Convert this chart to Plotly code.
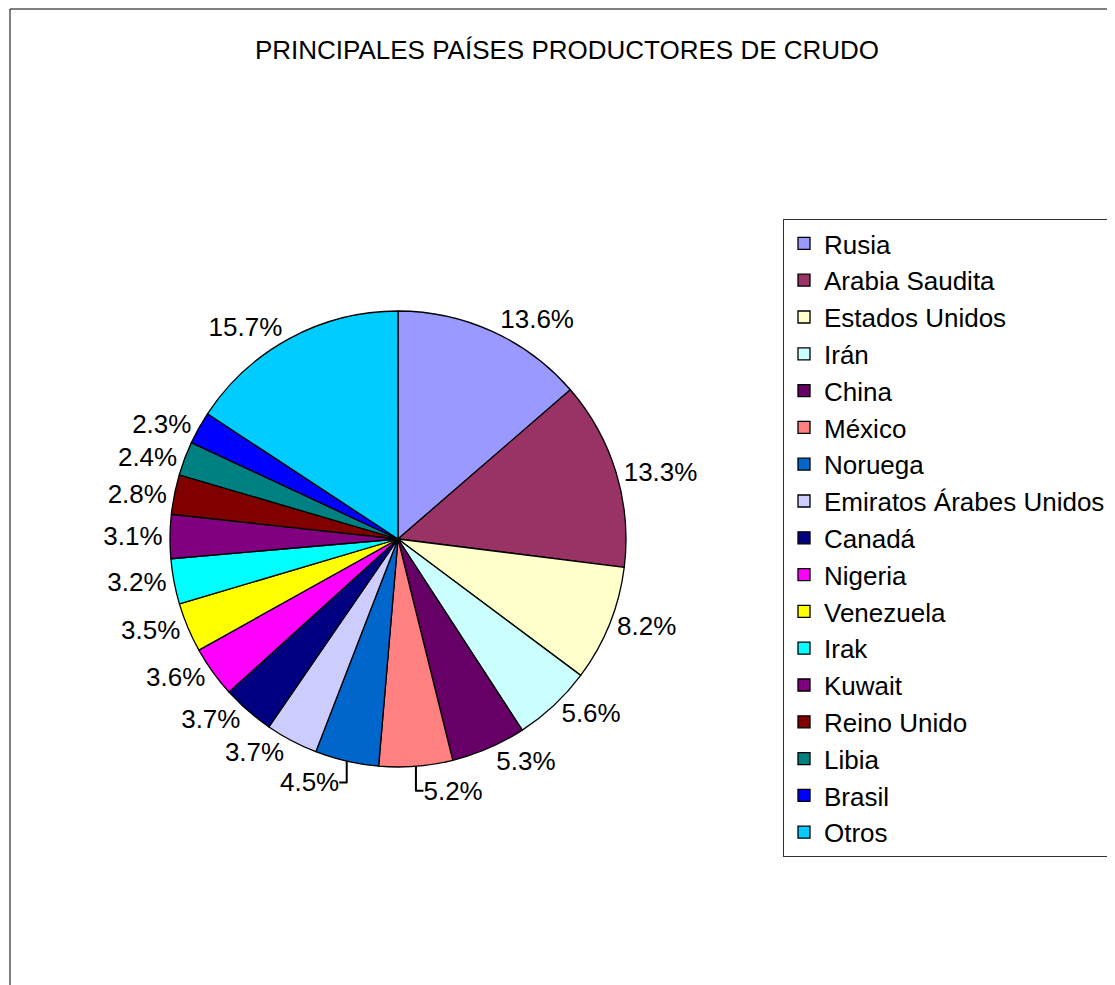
import plotly.graph_objects as go

paises = ['Rusia', 'Arabia Saudita', 'Estados Unidos', 'Irán', 'China', 'México',
          'Noruega', 'Emiratos Árabes Unidos', 'Canadá', 'Nigeria', 'Venezuela',
          'Irak', 'Kuwait', 'Reino Unido', 'Libia', 'Brasil', 'Otros']
porcentajes = [13.6, 13.3, 8.2, 5.6, 5.3, 5.2, 4.5, 3.7, 3.7, 3.6, 3.5,
               3.2, 3.1, 2.8, 2.4, 2.3, 15.7]
colores = ['#9999FF', '#993366', '#FFFFCC', '#CCFFFF', '#660066', '#FF8080',
           '#0066CC', '#CCCCFF', '#000080', '#FF00FF', '#FFFF00', '#00FFFF',
           '#800080', '#800000', '#008080', '#0000FF', '#00CCFF']

# the page adds an 8px body margin, so positions are shifted by 8
W, H = 1115, 985
cx, cy, r = 390, 531, 228

fig = go.Figure()
fig.add_trace(go.Pie(
    labels=paises,
    values=porcentajes,
    text=['%.1f%%' % p for p in porcentajes],
    textinfo='text',
    textposition='outside',
    sort=False,
    direction='clockwise',
    rotation=0,
    marker=dict(colors=colores, line=dict(color='black', width=1.3)),
    textfont=dict(size=26, color='black', family='Liberation Sans, Arial'),
    domain=dict(x=[(cx - r) / W, (cx + r) / W],
                y=[1 - (cy + r) / H, 1 - (cy - r) / H]),
))

fig.update_layout(
    width=W, height=H,
    margin=dict(l=0, r=0, t=0, b=0),
    paper_bgcolor='white',
    font=dict(family='Liberation Sans, Arial', size=26, color='black'),
    title=dict(text='PRINCIPALES PAÍSES PRODUCTORES DE CRUDO',
               x=559 / W, xanchor='center', y=1 - 42 / H, yanchor='middle',
               font=dict(size=26, color='black')),
    legend=dict(x=775 / W, y=1 - 211 / H, xanchor='left', yanchor='top',
                bgcolor='white', bordercolor='#303030', borderwidth=1,
                font=dict(size=26, color='black')),
    shapes=[dict(type='rect', xref='paper', yref='paper',
                 x0=2 / W, x1=1.02, y0=-0.02, y1=1 - 1 / H,
                 line=dict(color='black', width=1), layer='below')],
)

fig.write_html("out.html")
